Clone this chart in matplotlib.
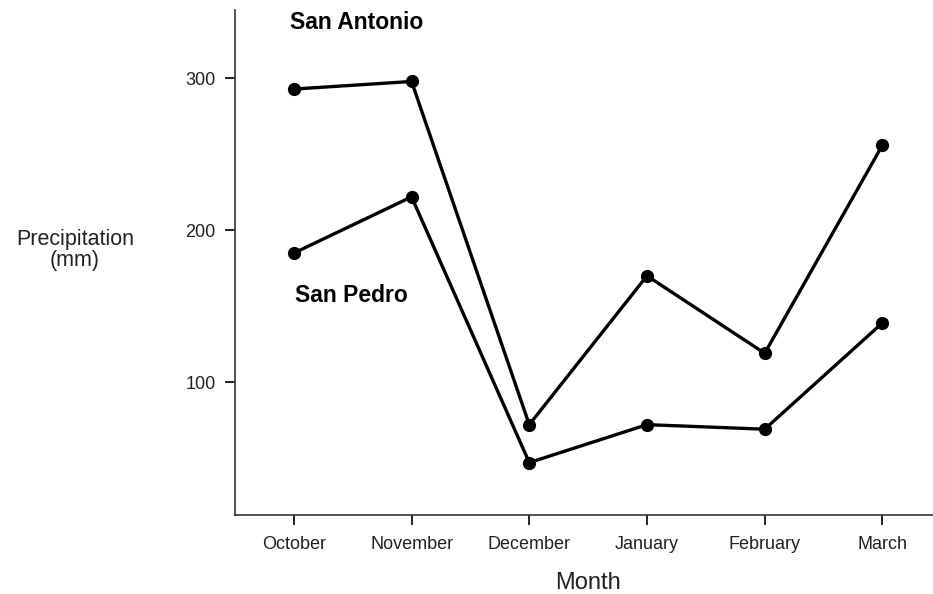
import matplotlib.pyplot as plt
import numpy as np

plt.rcParams['font.family'] = ['Liberation Sans', 'DejaVu Sans']

months = ['October', 'November', 'December', 'January', 'February', 'March']
san_antonio = [293, 298, 72, 170, 119, 256]
san_pedro = [185, 222, 47, 72, 69, 139]
y_ticks = [100, 200, 300]

fig = plt.figure(figsize=(9.33, 5.94), dpi=100)
ax = fig.add_axes([0.2519, 0.133, 0.7481, 0.85])

x = np.arange(len(months))
for series in (san_antonio, san_pedro):
    ax.plot(x, series, color='black', linewidth=2.4, marker='o', markersize=8.5)

ax.set_xlim(-0.5, 5.43)
ax.set_ylim(12.5, 345)
ax.set_xticks(x)
ax.set_xticklabels(months, fontsize=13, color='#222222')
ax.set_yticks(y_ticks)
ax.set_yticklabels([str(v) for v in y_ticks], fontsize=13, color='#222222')
ax.tick_params(axis='x', direction='out', length=7, width=1.2, pad=8)
ax.tick_params(axis='y', direction='out', length=7, width=1.2, pad=7)

for side in ('top', 'right'):
    ax.spines[side].set_visible(False)
for side in ('left', 'bottom'):
    ax.spines[side].set_linewidth(1.2)
    ax.spines[side].set_color('#333333')

ax.text(-0.03, 337, 'San Antonio', fontsize=16.5, fontweight='bold', va='center', ha='left')
ax.text(0.01, 157, 'San Pedro', fontsize=16.5, fontweight='bold', va='center', ha='left')

fig.text(75 / 933, 1 - 250 / 594, 'Precipitation\n(mm)', fontsize=15.5, ha='center', va='center',
         color='#222222', linespacing=1.05)
fig.text(588 / 933, 1 - 583 / 594, 'Month', fontsize=17, ha='center', va='center', color='#222222')

fig.savefig('out.png', dpi=100)
